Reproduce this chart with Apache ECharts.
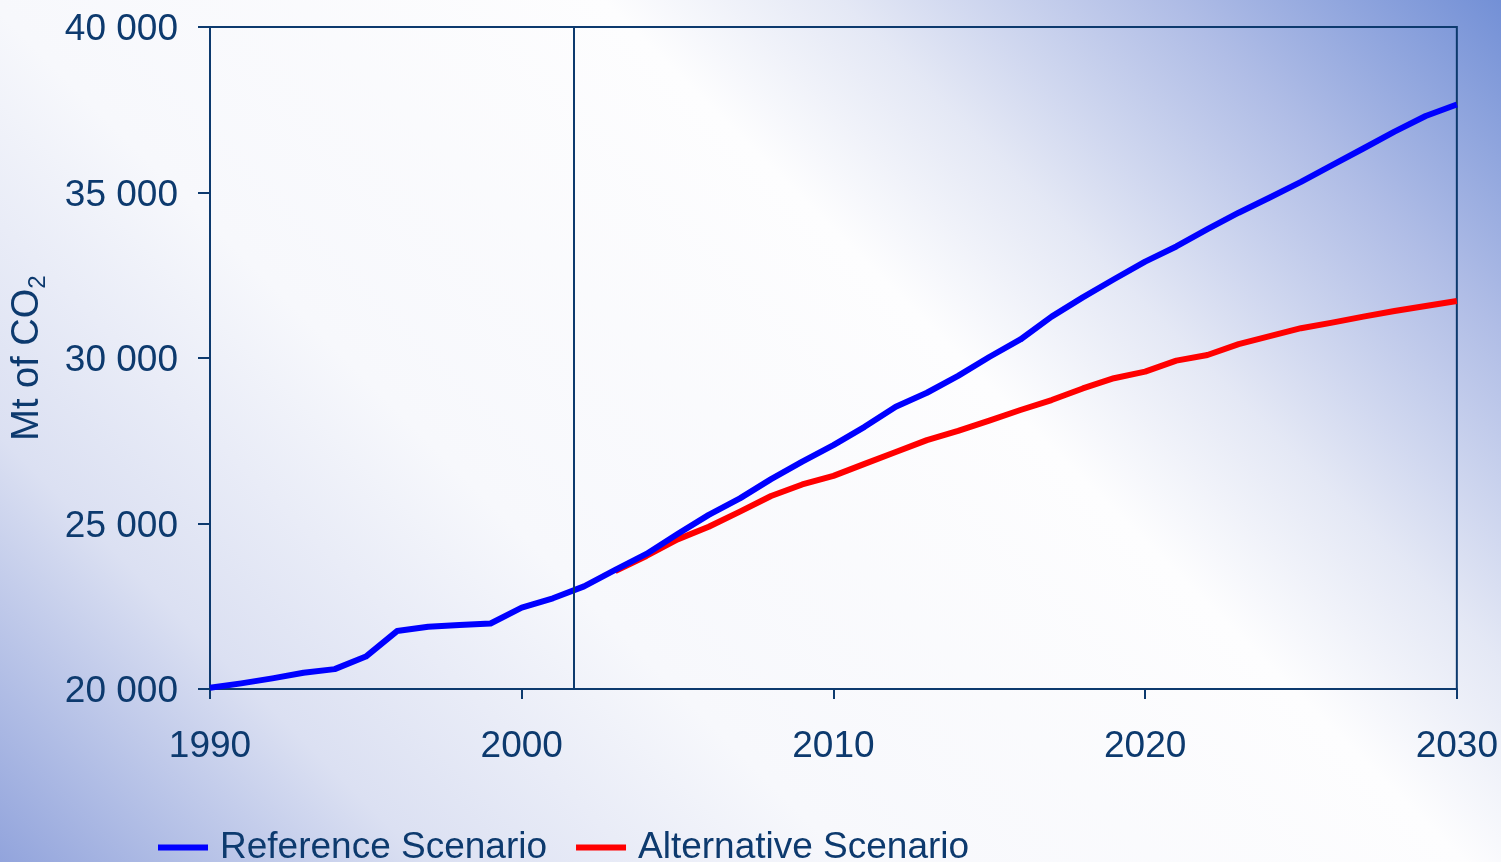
<!DOCTYPE html>
<html>
<head>
<meta charset="utf-8">
<title>CO2 emissions scenarios</title>
<script src="https://cdn.jsdelivr.net/npm/echarts@6/dist/echarts.min.js"></script>
<style>
  html, body { margin: 0; padding: 0; width: 100%; height: 100%; overflow: hidden; }
  #chart { width: 1501px; height: 862px; }
</style>
</head>
<body>
<div id="chart"></div>
<script>
// Global energy-related CO2 emissions, Mt
const years = [1990, 1991, 1992, 1993, 1994, 1995, 1996, 1997, 1998, 1999,
  2000, 2001, 2002, 2003, 2004, 2005, 2006, 2007, 2008, 2009,
  2010, 2011, 2012, 2013, 2014, 2015, 2016, 2017, 2018, 2019,
  2020, 2021, 2022, 2023, 2024, 2025, 2026, 2027, 2028, 2029, 2030];

const referenceScenario = [20040, 20170, 20320, 20490, 20600, 20980, 21750, 21880, 21930, 21980,
  22460, 22740, 23100, 23600, 24080, 24680, 25260, 25760, 26340, 26870,
  27370, 27920, 28530, 28950, 29460, 30030, 30560, 31250, 31830, 32380,
  32910, 33370, 33890, 34390, 34850, 35320, 35830, 36330, 36840, 37310, 37660];

const altYears = [2003, 2004, 2005, 2006, 2007, 2008, 2009,
  2010, 2011, 2012, 2013, 2014, 2015, 2016, 2017, 2018, 2019,
  2020, 2021, 2022, 2023, 2024, 2025, 2026, 2027, 2028, 2029, 2030];

const alternativeScenario = [23560, 24020, 24520, 24900, 25360, 25830, 26180,
  26440, 26800, 27160, 27520, 27800, 28110, 28430, 28730, 29080, 29390,
  29590, 29920, 30090, 30420, 30660, 30900, 31070, 31250, 31420, 31570, 31720];

// Boundary between historical data and projections
const projectionStart = 2001.66;

const seriesNames = ['Reference Scenario', 'Alternative Scenario'];

const navy = '#0d3a6e';
const font = '"Liberation Sans", Arial, sans-serif';

const chart = echarts.init(document.getElementById('chart'), null, { renderer: 'canvas' });

const pairs = (xs, ys) => xs.map((x, i) => [x, ys[i]]);
const thousands = v => String(v).replace(/\B(?=(\d{3})+(?!\d))/g, ' ');

chart.setOption({
  animation: false,
  backgroundColor: new echarts.graphic.LinearGradient(-431, 431, 750.5, -750.5, [
    { offset: 0.00, color: '#92a4dc' },
    { offset: 0.18, color: '#dbe0f2' },
    { offset: 0.36, color: '#f7f8fc' },
    { offset: 0.62, color: '#fdfdfe' },
    { offset: 0.72, color: '#e4e8f5' },
    { offset: 0.86, color: '#b0bde6' },
    { offset: 1.00, color: '#7390d6' }
  ], true),
  grid: {
    left: 210, right: 42, top: 27, bottom: 173,
    show: true,
    borderColor: navy,
    borderWidth: 2,
    backgroundColor: 'transparent'
  },
  legend: {
    data: seriesNames,
    left: 158,
    top: 829,
    padding: 0,
    icon: 'rect',
    itemWidth: 50,
    itemHeight: 6,
    itemGap: 29,
    textStyle: {
      fontFamily: font,
      fontSize: 37,
      lineHeight: 37,
      color: navy,
      padding: [0, 0, 0, 7]
    }
  },
  xAxis: {
    type: 'value',
    min: 1990,
    max: 2030,
    interval: 10,
    splitLine: { show: false },
    axisLine: { lineStyle: { color: navy, width: 2 } },
    axisTick: { show: true, inside: false, length: 10, lineStyle: { color: navy, width: 2 } },
    axisLabel: {
      margin: 39,
      fontFamily: font,
      fontSize: 37,
      color: navy,
      formatter: v => String(v)
    }
  },
  yAxis: {
    type: 'value',
    min: 20000,
    max: 40000,
    interval: 5000,
    splitLine: { show: false },
    axisLine: { show: true, lineStyle: { color: navy, width: 2 } },
    axisTick: { show: true, inside: false, length: 12, lineStyle: { color: navy, width: 2 } },
    axisLabel: {
      margin: 32,
      color: navy,
      formatter: v => '{v|' + thousands(v) + '}',
      rich: {
        v: { fontFamily: font, fontSize: 37, lineHeight: 37, color: navy, padding: [6, 0, 0, 0] }
      }
    },
    name: '{n|Mt of CO}{s|2}',
    nameLocation: 'middle',
    nameGap: 160,
    nameTextStyle: {
      color: navy,
      fontFamily: font,
      rich: {
        n: { fontSize: 38, lineHeight: 38, color: navy, fontFamily: font, padding: [0, 0, 6, 0] },
        s: { fontSize: 24, lineHeight: 24, color: navy, fontFamily: font, verticalAlign: 'bottom' }
      }
    }
  },
  series: [
    {
      name: seriesNames[1],
      type: 'line',
      z: 2,
      data: pairs(altYears, alternativeScenario),
      showSymbol: false,
      symbol: 'none',
      lineStyle: { color: '#ff0000', width: 6, join: 'round' },
      itemStyle: { color: '#ff0000' }
    },
    {
      name: seriesNames[0],
      type: 'line',
      z: 3,
      data: pairs(years, referenceScenario),
      showSymbol: false,
      symbol: 'none',
      lineStyle: { color: '#0000ff', width: 6, join: 'round' },
      itemStyle: { color: '#0000ff' },
      markLine: {
        silent: true,
        symbol: 'none',
        label: { show: false },
        lineStyle: { color: navy, width: 2, type: 'solid' },
        data: [{ xAxis: projectionStart }]
      }
    }
  ]
});
</script>
</body>
</html>
